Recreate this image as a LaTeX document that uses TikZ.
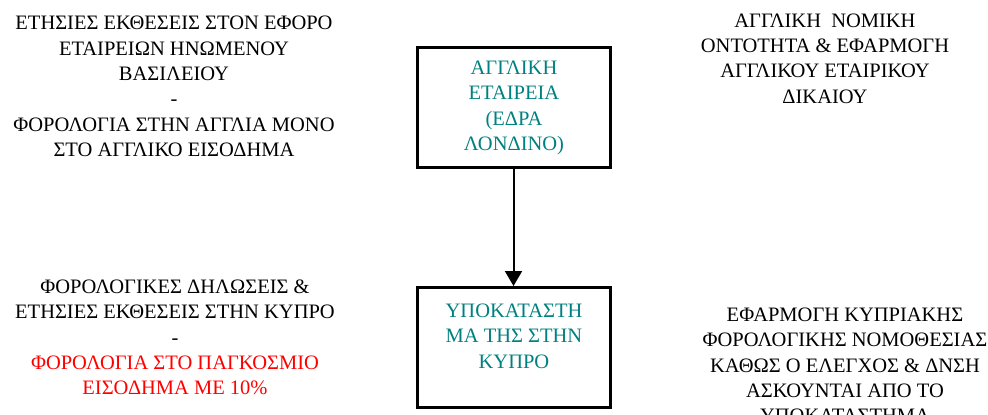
\documentclass[tikz,border=0pt]{standalone}
\usepackage{fontspec}
\setmainfont{Liberation Serif}
\usepackage{xcolor}
\usetikzlibrary{arrows.meta,positioning}
\definecolor{unitteal}{RGB}{0,128,128}

\begin{document}
\begin{tikzpicture}[x=1pt,y=-1pt,
    note/.style={align=center, inner sep=0pt, font=\fontsize{20.5}{25.4}\selectfont},
    unit/.style={draw, line width=3pt, minimum width=193pt, minimum height=120pt, inner sep=0pt},
    unittext/.style={note, text=unitteal}]
    \useasboundingbox (0,0) rectangle (988,415);

    % the two companies
    \node [unit] (parent) at (513.5,107.5) {};
    \node [unit] (branch) at (513.5,347.5) {};
    \node [unittext] (parenttext) at (514,108) {ΑΓΓΛΙΚΗ\\ΕΤΑΙΡΕΙΑ\\(ΕΔΡΑ\\ΛΟΝΔΙΝΟ)};
    \node [unittext] (branchtext) at (514,336) {ΥΠΟΚΑΤΑΣΤΗ\\ΜΑ ΤΗΣ ΣΤΗΝ\\ΚΥΠΡΟ};

    \draw [-{Triangle[length=15pt,width=17pt]}, line width=2pt] (parent) -- (branch);

    % side notes
    \node [note] (ukreports) at (174,86.5) {ΕΤΗΣΙΕΣ ΕΚΘΕΣΕΙΣ ΣΤΟΝ ΕΦΟΡΟ\\ΕΤΑΙΡΕΙΩΝ ΗΝΩΜΕΝΟΥ\\ΒΑΣΙΛΕΙΟΥ\\-\\ΦΟΡΟΛΟΓΙΑ ΣΤΗΝ ΑΓΓΛΙΑ ΜΟΝΟ\\ΣΤΟ ΑΓΓΛΙΚΟ ΕΙΣΟΔΗΜΑ};
    \node [note] (uklaw) at (825,58.5) {ΑΓΓΛΙΚΗ\ \ ΝΟΜΙΚΗ\\ΟΝΤΟΤΗΤΑ \& ΕΦΑΡΜΟΓΗ\\ΑΓΓΛΙΚΟΥ ΕΤΑΙΡΙΚΟΥ\\ΔΙΚΑΙΟΥ};
    \node [note] (cyreports) at (175,337.5) {ΦΟΡΟΛΟΓΙΚΕΣ ΔΗΛΩΣΕΙΣ \&\\ΕΤΗΣΙΕΣ ΕΚΘΕΣΕΙΣ ΣΤΗΝ ΚΥΠΡΟ\\-\\\textcolor{red}{ΦΟΡΟΛΟΓΙΑ ΣΤΟ ΠΑΓΚΟΣΜΙΟ}\\\textcolor{red}{ΕΙΣΟΔΗΜΑ ΜΕ 10\%}};
    \node [note] (cylaw) at (845,365.5) {ΕΦΑΡΜΟΓΗ ΚΥΠΡΙΑΚΗΣ\\ΦΟΡΟΛΟΓΙΚΗΣ ΝΟΜΟΘΕΣΙΑΣ\\ΚΑΘΩΣ Ο ΕΛΕΓΧΟΣ \& ΔΝΣΗ\\ΑΣΚΟΥΝΤΑΙ ΑΠΟ ΤΟ\\ΥΠΟΚΑΤΑΣΤΗΜΑ};
\end{tikzpicture}
\end{document}
